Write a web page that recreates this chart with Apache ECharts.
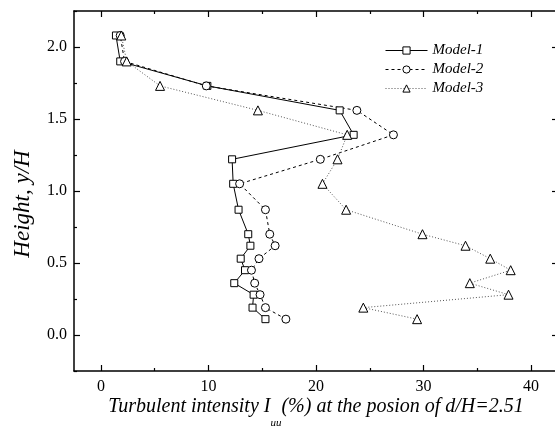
<!DOCTYPE html>
<html>
<head>
<meta charset="utf-8">
<script src="https://cdn.jsdelivr.net/npm/echarts@6/dist/echarts.min.js"></script>
<style>
  html, body { margin: 0; padding: 0; background: #fff; }
  #chart { width: 555px; height: 426px; }
</style>
</head>
<body>
<div id="chart"></div>
<script>
// Heights y/H at which the profiles were sampled
const heights = [0.11, 0.19, 0.28, 0.36, 0.45, 0.53, 0.62, 0.70, 0.87, 1.05, 1.22, 1.39, 1.56, 1.73, 1.90, 2.08];
// Turbulent intensity Iuu (%) for each model, one value per height
const model1 = [15.3, 14.1, 14.2, 12.4, 13.4, 13.0, 13.9, 13.7, 12.8, 12.3, 12.2, 23.5, 22.2, 9.9, 1.8, 1.4];
const model2 = [17.2, 15.3, 14.8, 14.3, 14.0, 14.7, 16.2, 15.7, 15.3, 12.9, 20.4, 27.2, 23.8, 9.8, 2.2, 1.8];
const model3 = [29.4, 24.4, 37.9, 34.3, 38.1, 36.2, 33.9, 29.9, 22.8, 20.6, 22.0, 22.9, 14.6, 5.5, 2.4, 1.9];
const seriesNames = ['Model-1', 'Model-2', 'Model-3'];

// Tick positions
const xMajor = [0, 10, 20, 30, 40];
const xMinor = [5, 15, 25, 35];
const yMajor = [0, 0.5, 1.0, 1.5, 2.0];
const yMinor = [-0.25, 0.25, 0.75, 1.25, 1.75, 2.25];

const SERIF = "'Liberation Serif', 'Times New Roman', serif";
const X_MIN = -2.5, X_MAX = 42.5, Y_MIN = -0.25, Y_MAX = 2.25;

function pairs(xs) { return xs.map((v, i) => [v, heights[i]]); }

// One axis of the frame: either the border line itself or a set of inward ticks
function axis(dim, pos, ticks, len, extra) {
  const base = {
    type: 'value', position: pos,
    min: dim === 'x' ? X_MIN : Y_MIN, max: dim === 'x' ? X_MAX : Y_MAX,
    axisLine: ticks ? { show: false, onZero: false }
                    : { show: true, onZero: false, lineStyle: { color: '#000', width: 1.5 } },
    axisTick: ticks ? { show: true, inside: true, length: len, customValues: ticks,
                        lineStyle: { color: '#000', width: 1.2 } }
                    : { show: false },
    axisLabel: { show: false },
    splitLine: { show: false }
  };
  return Object.assign(base, extra || {});
}

const chart = echarts.init(document.getElementById('chart'), null, { renderer: 'canvas' });

const option = {
  backgroundColor: '#fff',
  animation: false,
  grid: { left: 74, top: 11, width: 484, height: 360, containLabel: false, outerBoundsMode: 'none' },
  legend: {
    data: seriesNames,
    orient: 'vertical',
    left: 385, top: 43, padding: 0,
    itemWidth: 42, itemHeight: 9, itemGap: 4,
    itemStyle: { borderWidth: 1 },
    lineStyle: { width: 1 },
    textStyle: { fontFamily: SERIF, fontStyle: 'italic', fontSize: 15, color: '#000' }
  },
  xAxis: [
    // tick labels and title of the horizontal axis
    axis('x', 'bottom', null, 0, {
      axisLine: { show: false, onZero: false },
      axisLabel: {
        show: true, customValues: xMajor, margin: 8,
        fontFamily: SERIF, fontSize: 16, color: '#000'
      },
      name: 'Turbulent intensity I{sub|uu}(%) at the posion of d/H=2.51',
      nameLocation: 'middle', nameGap: 14, nameMoveOverlap: false,
      nameTextStyle: {
        fontFamily: SERIF, fontStyle: 'italic', fontSize: 20, color: '#000', lineHeight: 44,
        rich: { sub: { fontFamily: SERIF, fontStyle: 'italic', fontSize: 11, lineHeight: 11, verticalAlign: 'bottom', color: '#000' } }
      }
    }),
    axis('x', 'bottom', xMajor, 6),
    axis('x', 'bottom', xMinor, 3),
    axis('x', 'top', xMajor, 6),
    axis('x', 'top', xMinor, 3),
    axis('x', 'bottom', null),
    axis('x', 'top', null)
  ],
  yAxis: [
    axis('y', 'left', yMajor, 6, {
      axisLabel: {
        show: true, customValues: yMajor, margin: 7,
        formatter: v => v.toFixed(1),
        fontFamily: SERIF, fontSize: 16, color: '#000'
      },
      name: 'Height, y/H',
      nameLocation: 'middle', nameGap: 40, nameMoveOverlap: false,
      nameTextStyle: { fontFamily: SERIF, fontStyle: 'italic', fontSize: 23, color: '#000', padding: [0, 26, 0, 0] }
    }),
    axis('y', 'left', yMinor, 3),
    axis('y', 'right', yMajor, 6),
    axis('y', 'right', yMinor, 3),
    axis('y', 'left', null),
    axis('y', 'right', null)
  ],
  series: [
    {
      name: seriesNames[0], type: 'line', data: pairs(model1),
      symbol: 'rect', symbolSize: 7, showAllSymbol: true,
      lineStyle: { color: '#000', width: 1, type: 'solid' },
      itemStyle: { color: '#fff', borderColor: '#000', borderWidth: 1 }
    },
    {
      name: seriesNames[1], type: 'line', data: pairs(model2),
      symbol: 'circle', symbolSize: 8, showAllSymbol: true,
      lineStyle: { color: '#000', width: 1, type: [3, 3] },
      itemStyle: { color: '#fff', borderColor: '#000', borderWidth: 1 }
    },
    {
      name: seriesNames[2], type: 'line', data: pairs(model3),
      symbol: 'triangle', symbolSize: 9, showAllSymbol: true,
      lineStyle: { color: '#555', width: 1, type: [1, 2] },
      itemStyle: { color: '#fff', borderColor: '#000', borderWidth: 1 }
    }
  ]
};

chart.setOption(option);
</script>
</body>
</html>
